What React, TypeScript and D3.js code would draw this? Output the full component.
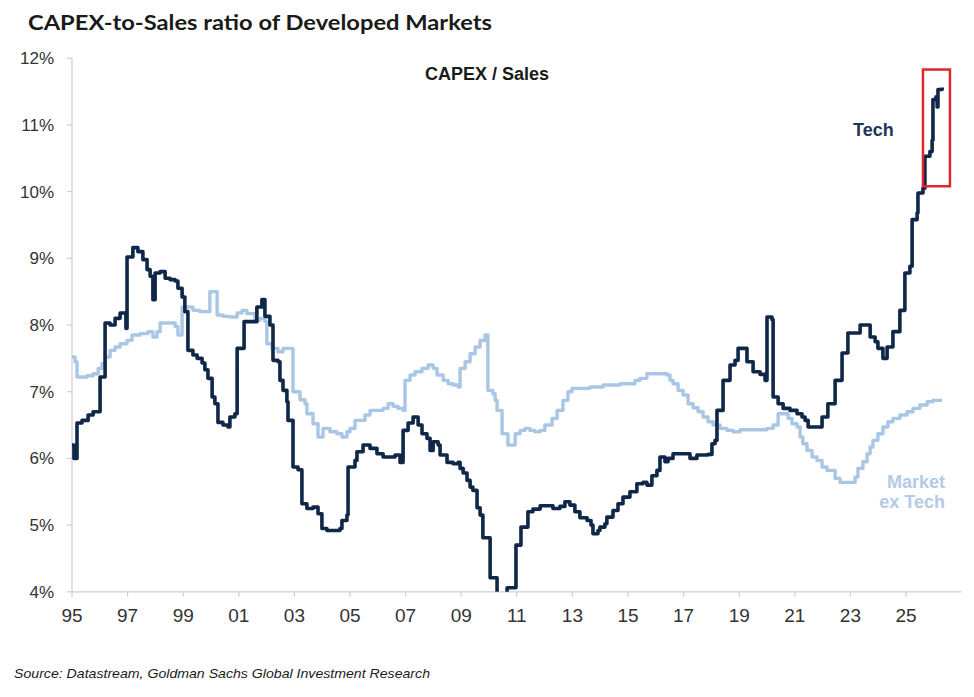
import { useRef, useEffect } from 'react';
import * as d3 from 'd3';

// [decimal year, CAPEX / Sales %] step points
const techSeries: [number, number][] = [
  [1995.0, 6.2], [1995.07, 6.0], [1995.18, 6.53], [1995.36, 6.57], [1995.58, 6.65], [1995.76, 6.7],
  [1996.01, 7.22], [1996.19, 8.03], [1996.37, 8.0], [1996.55, 8.1], [1996.73, 8.18], [1996.94, 7.95],
  [1996.98, 9.02], [1997.19, 9.16], [1997.37, 9.1], [1997.55, 8.98], [1997.7, 8.83], [1997.81, 8.73],
  [1997.91, 8.38], [1997.99, 8.78], [1998.17, 8.8], [1998.35, 8.7], [1998.53, 8.68], [1998.71, 8.66],
  [1998.81, 8.55], [1998.96, 8.42], [1999.06, 8.2], [1999.17, 7.62], [1999.35, 7.55], [1999.5, 7.5],
  [1999.68, 7.43], [1999.78, 7.33], [1999.89, 7.2], [2000.04, 6.92], [2000.14, 6.82], [2000.25, 6.54],
  [2000.43, 6.5], [2000.61, 6.47], [2000.68, 6.62], [2000.86, 6.67], [2000.94, 7.65], [2001.19, 8.05],
  [2001.65, 8.27], [2001.83, 8.38], [2001.94, 8.13], [2002.12, 8.0], [2002.23, 7.47], [2002.41, 7.45],
  [2002.48, 7.17], [2002.59, 7.02], [2002.73, 6.85], [2002.77, 6.57], [2002.95, 5.87], [2003.13, 5.83],
  [2003.27, 5.32], [2003.45, 5.25], [2003.67, 5.27], [2003.85, 5.17], [2003.99, 4.95], [2004.17, 4.92],
  [2004.64, 4.95], [2004.71, 5.07], [2004.89, 5.15], [2004.93, 5.87], [2005.18, 5.97], [2005.25, 6.1],
  [2005.47, 6.2], [2005.72, 6.15], [2005.97, 6.07], [2006.19, 6.02], [2006.62, 6.05], [2006.8, 5.94],
  [2006.91, 6.42], [2007.09, 6.53], [2007.27, 6.62], [2007.45, 6.5], [2007.59, 6.37], [2007.77, 6.3],
  [2007.88, 6.12], [2007.99, 6.25], [2008.17, 6.2], [2008.24, 6.05], [2008.49, 5.94], [2008.71, 5.92],
  [2008.89, 5.94], [2008.96, 5.85], [2009.07, 5.78], [2009.21, 5.67], [2009.32, 5.57], [2009.42, 5.52],
  [2009.57, 5.26], [2009.68, 5.15], [2009.78, 4.81], [2010.04, 4.21], [2010.29, 3.6], [2010.65, 4.06],
  [2010.97, 4.7], [2011.15, 4.97], [2011.4, 5.2], [2011.58, 5.24], [2011.84, 5.29], [2012.3, 5.25],
  [2012.55, 5.28], [2012.73, 5.35], [2012.91, 5.3], [2013.09, 5.2], [2013.27, 5.11], [2013.53, 5.07],
  [2013.67, 5.0], [2013.74, 4.87], [2013.92, 4.92], [2013.99, 4.97], [2014.17, 5.02], [2014.24, 5.12],
  [2014.46, 5.22], [2014.64, 5.32], [2014.82, 5.42], [2015.07, 5.5], [2015.32, 5.62], [2015.54, 5.64],
  [2015.68, 5.6], [2015.86, 5.74], [2016.04, 5.82], [2016.15, 6.02], [2016.33, 5.95], [2016.44, 6.0],
  [2016.62, 6.07], [2017.12, 6.07], [2017.23, 6.0], [2017.48, 6.05], [2017.88, 6.06], [2018.02, 6.22],
  [2018.13, 6.27], [2018.2, 6.72], [2018.42, 7.17], [2018.67, 7.4], [2018.85, 7.47], [2018.96, 7.65],
  [2019.28, 7.45], [2019.5, 7.3], [2019.75, 7.26], [2019.93, 7.17], [2020.0, 8.12], [2020.18, 8.08],
  [2020.22, 6.92], [2020.4, 6.82], [2020.58, 6.75], [2020.83, 6.72], [2021.08, 6.67], [2021.26, 6.62],
  [2021.37, 6.57], [2021.48, 6.47], [2021.98, 6.62], [2022.19, 6.82], [2022.45, 7.17], [2022.7, 7.58],
  [2022.91, 7.88], [2023.35, 8.0], [2023.71, 7.82], [2023.89, 7.75], [2023.99, 7.65], [2024.17, 7.5],
  [2024.32, 7.67], [2024.53, 7.9], [2024.78, 8.22], [2024.96, 8.78], [2025.14, 8.88], [2025.22, 9.58],
  [2025.4, 9.68], [2025.43, 9.98], [2025.61, 10.05], [2025.68, 10.53], [2025.86, 10.6], [2025.94, 10.77],
  [2025.97, 11.38], [2026.08, 11.42], [2026.12, 11.27], [2026.15, 11.53], [2026.3, 11.56],
];

const exTechSeries: [number, number][] = [
  [1995.0, 7.52], [1995.11, 7.45], [1995.18, 7.22], [1995.54, 7.24], [1995.76, 7.27], [1995.94, 7.35],
  [1996.08, 7.42], [1996.19, 7.52], [1996.37, 7.62], [1996.55, 7.67], [1996.73, 7.72], [1996.98, 7.77],
  [1997.16, 7.85], [1997.45, 7.87], [1997.73, 7.9], [1997.91, 7.82], [1998.06, 7.9], [1998.17, 8.03],
  [1998.71, 7.98], [1998.81, 7.85], [1998.96, 8.27], [1999.35, 8.22], [1999.6, 8.2], [1999.96, 8.5],
  [2000.22, 8.15], [2000.43, 8.13], [2000.68, 8.12], [2000.94, 8.18], [2001.12, 8.22], [2001.29, 8.17],
  [2001.58, 8.07], [2001.76, 8.1], [2001.94, 8.05], [2002.01, 7.72], [2002.19, 7.65], [2002.41, 7.6],
  [2002.59, 7.65], [2002.95, 7.0], [2003.2, 6.88], [2003.38, 6.82], [2003.45, 6.67], [2003.67, 6.52],
  [2003.85, 6.32], [2004.03, 6.45], [2004.28, 6.4], [2004.53, 6.37], [2004.71, 6.32], [2004.89, 6.4],
  [2005.0, 6.45], [2005.18, 6.57], [2005.54, 6.65], [2005.72, 6.72], [2006.19, 6.75], [2006.37, 6.82],
  [2006.55, 6.78], [2006.73, 6.75], [2006.91, 6.72], [2006.98, 7.17], [2007.16, 7.25], [2007.34, 7.3],
  [2007.59, 7.35], [2007.81, 7.4], [2007.99, 7.35], [2008.13, 7.25], [2008.35, 7.17], [2008.53, 7.12],
  [2008.71, 7.1], [2008.89, 7.07], [2008.96, 7.35], [2009.14, 7.45], [2009.32, 7.57], [2009.5, 7.67],
  [2009.68, 7.77], [2009.86, 7.85], [2009.96, 7.02], [2010.14, 6.97], [2010.22, 6.87], [2010.29, 6.72],
  [2010.47, 6.37], [2010.68, 6.2], [2010.94, 6.37], [2011.12, 6.42], [2011.29, 6.45], [2011.47, 6.42],
  [2011.65, 6.4], [2011.84, 6.42], [2012.01, 6.5], [2012.27, 6.6], [2012.45, 6.72], [2012.66, 6.87],
  [2012.84, 7.0], [2012.99, 7.05], [2013.63, 7.07], [2014.1, 7.1], [2014.71, 7.12], [2015.25, 7.17],
  [2015.43, 7.2], [2015.68, 7.27], [2016.4, 7.25], [2016.51, 7.17], [2016.62, 7.12], [2016.8, 7.02],
  [2016.98, 6.95], [2017.16, 6.82], [2017.34, 6.76], [2017.52, 6.7], [2017.7, 6.62], [2017.88, 6.55],
  [2018.06, 6.5], [2018.31, 6.45], [2018.56, 6.42], [2018.78, 6.4], [2019.03, 6.43], [2020.0, 6.45],
  [2020.22, 6.5], [2020.4, 6.67], [2020.76, 6.6], [2020.9, 6.52], [2021.08, 6.47], [2021.19, 6.32],
  [2021.29, 6.22], [2021.44, 6.12], [2021.62, 6.02], [2021.8, 5.97], [2021.98, 5.87], [2022.16, 5.82],
  [2022.45, 5.7], [2022.63, 5.64], [2023.17, 5.72], [2023.27, 5.85], [2023.45, 5.95], [2023.6, 6.07],
  [2023.71, 6.17], [2023.81, 6.27], [2023.99, 6.37], [2024.17, 6.47], [2024.35, 6.55], [2024.53, 6.6],
  [2024.78, 6.65], [2025.04, 6.7], [2025.25, 6.75], [2025.5, 6.8], [2025.76, 6.85], [2025.97, 6.87],
  [2026.3, 6.87],
];

const yTicks = [4, 5, 6, 7, 8, 9, 10, 11, 12];
const xTicks = [1995, 1997, 1999, 2001, 2003, 2005, 2007, 2009, 2011, 2013, 2015, 2017, 2019, 2021, 2023, 2025];
// highlighted region: [year from, year to, % from, % to]
const highlightBox = [2025.61, 2026.58, 10.08, 11.83];

const W = 974;
const H = 697;

const App = () => {
  const svgRef = useRef<SVGSVGElement | null>(null);

  useEffect(() => {
    if (!svgRef.current) return;
    const svg = d3.select(svgRef.current);
    svg.selectAll('*').remove();

    const x = d3.scaleLinear().domain([1995, 2027]).range([72, 961.6]);
    const y = d3.scaleLinear().domain([4, 12]).range([591.8, 58.2]);
    const labelFont = '"Liberation Sans", Arial, sans-serif';

    svg.append('rect').attr('width', W).attr('height', H).attr('fill', '#fff');

    // title
    svg.append('text')
      .attr('x', 28).attr('y', 30)
      .attr('font-family', 'Lato, sans-serif')
      .attr('font-weight', 700)
      .attr('font-size', 21)
      .attr('fill', '#1a1a1a')
      .attr('textLength', 464)
      .attr('lengthAdjust', 'spacingAndGlyphs')
      .text('CAPEX-to-Sales ratio of Developed Markets');

    // axes
    const axisColor = '#cfcfcf';
    svg.append('line')
      .attr('x1', x(1995)).attr('x2', x(1995))
      .attr('y1', y(12)).attr('y2', y(4))
      .attr('stroke', axisColor).attr('stroke-width', 1.2);
    svg.append('line')
      .attr('x1', x(1995)).attr('x2', x(2027))
      .attr('y1', y(4)).attr('y2', y(4))
      .attr('stroke', axisColor).attr('stroke-width', 1.2);

    const yg = svg.append('g');
    yTicks.forEach((t) => {
      yg.append('line')
        .attr('x1', x(1995) - 5).attr('x2', x(1995))
        .attr('y1', y(t)).attr('y2', y(t))
        .attr('stroke', axisColor).attr('stroke-width', 1.2);
      yg.append('text')
        .attr('x', 54).attr('y', y(t) + 6)
        .attr('text-anchor', 'end')
        .attr('font-family', labelFont)
        .attr('font-size', 17)
        .attr('fill', '#333')
        .text(`${t}%`);
    });

    const xg = svg.append('g');
    xTicks.forEach((t) => {
      xg.append('line')
        .attr('x1', x(t)).attr('x2', x(t))
        .attr('y1', y(4)).attr('y2', y(4) + 5)
        .attr('stroke', axisColor).attr('stroke-width', 1.2);
      xg.append('text')
        .attr('x', x(t)).attr('y', y(4) + 30)
        .attr('text-anchor', 'middle')
        .attr('font-family', labelFont)
        .attr('font-size', 19)
        .attr('fill', '#333')
        .text(String(t % 100).padStart(2, '0'));
    });

    svg.append('defs').append('clipPath').attr('id', 'plot-clip')
      .append('rect')
      .attr('x', x(1995)).attr('y', 0)
      .attr('width', x(2027) - x(1995)).attr('height', y(4));

    const line = d3.line<[number, number]>()
      .x((d) => x(d[0]))
      .y((d) => y(d[1]))
      .curve(d3.curveStepAfter);

    const plot = svg.append('g').attr('clip-path', 'url(#plot-clip)');
    plot.append('path')
      .datum(exTechSeries)
      .attr('fill', 'none')
      .attr('stroke', '#a9c7e5')
      .attr('stroke-width', 3.4)
      .attr('stroke-linejoin', 'round')
      .attr('d', line);
    plot.append('path')
      .datum(techSeries)
      .attr('fill', 'none')
      .attr('stroke', '#0f2748')
      .attr('stroke-width', 3.6)
      .attr('stroke-linejoin', 'round')
      .attr('d', line);

    // inner heading and series labels
    svg.append('text')
      .attr('x', 487).attr('y', 80)
      .attr('text-anchor', 'middle')
      .attr('font-family', labelFont)
      .attr('font-weight', 700)
      .attr('font-size', 18)
      .attr('fill', '#1a1a1a')
      .text('CAPEX / Sales');
    svg.append('text')
      .attr('x', 853).attr('y', 136)
      .attr('font-family', labelFont)
      .attr('font-weight', 700)
      .attr('font-size', 18)
      .attr('fill', '#22355a')
      .text('Tech');
    const mk = svg.append('text')
      .attr('text-anchor', 'end')
      .attr('font-family', labelFont)
      .attr('font-weight', 700)
      .attr('font-size', 18)
      .attr('fill', '#b3cbe4');
    mk.append('tspan').attr('x', 945).attr('y', 488).text('Market');
    mk.append('tspan').attr('x', 945).attr('y', 508).text('ex Tech');

    // red highlight box
    const [bx0, bx1, by0, by1] = highlightBox;
    svg.append('rect')
      .attr('x', x(bx0)).attr('y', y(by1))
      .attr('width', x(bx1) - x(bx0)).attr('height', y(by0) - y(by1))
      .attr('fill', 'none')
      .attr('stroke', '#e0262b')
      .attr('stroke-width', 2.5);

    // source
    svg.append('text')
      .attr('x', 14).attr('y', 678)
      .attr('font-family', labelFont)
      .attr('font-style', 'italic')
      .attr('font-size', 13)
      .attr('fill', '#1a1a1a')
      .attr('textLength', 416)
      .attr('lengthAdjust', 'spacingAndGlyphs')
      .text('Source: Datastream, Goldman Sachs Global Investment Research');
  }, []);

  return (
    <div style={{ position: 'fixed', left: 0, top: 0 }}>
      <svg ref={svgRef} width={W} height={H} />
    </div>
  );
};

export default App;
